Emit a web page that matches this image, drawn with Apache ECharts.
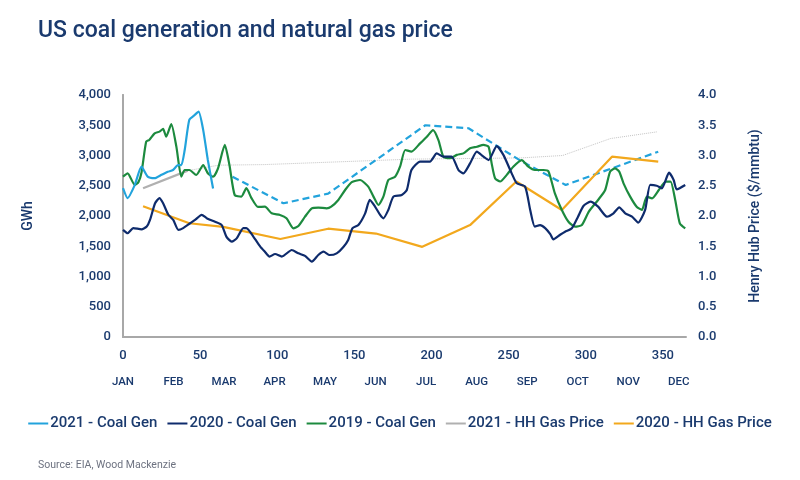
<!DOCTYPE html>
<html>
<head>
<meta charset="utf-8">
<script src="https://cdn.jsdelivr.net/npm/echarts@6/dist/echarts.min.js"></script>
<style>
  html, body { margin: 0; padding: 0; background: #fff; }
  #main { width: 800px; height: 480px; }
</style>
</head>
<body>
<div id="main"></div>
<script>
// [day of year, value]
const coal2021 = [[0,2460],[3,2295],[7.6,2510],[12,2815],[16,2650],[20.5,2625],[25,2680],[29,2730],[32.4,2760],[35.7,2840],[37.8,2840],[40,3090],[43,3590],[46.5,3670],[49,3725],[52,3420],[55,2925],[58.4,2455]]
const coal2021Outlook = [[71,2650],[104,2210],[133,2370],[196,3500],[224,3450],[258,2910],[287,2513],[347,3063]]
const coal2020 = [[0,1770],[3,1715],[6.7,1800],[12,1780],[15.4,1825],[17.5,1935],[20.8,2210],[23.6,2295],[26,2210],[29.4,2020],[32.6,1935],[35.9,1770],[39,1800],[43.5,1880],[46.7,1935],[51,2020],[54.5,1960],[59.7,1905],[64,1850],[67,1660],[70.5,1575],[73.7,1630],[78,1800],[80,1800],[84.5,1660],[89,1495],[92,1410],[95,1330],[98.6,1372],[103,1330],[109.4,1438],[113.7,1383],[118,1340],[122.4,1245],[126.6,1355],[130,1410],[134,1355],[138.5,1383],[143,1493],[146,1603],[148.7,1797],[152.6,1851],[157,2044],[160,2265],[163.4,2155],[166.7,2017],[168.8,1962],[172,2100],[175.3,2320],[180.7,2347],[184,2430],[187,2760],[192.6,2900],[199,2900],[203.4,3035],[207.7,2980],[213,2980],[217.5,2760],[220.7,2705],[225,2870],[229.4,3065],[233.7,2980],[237,2925],[242.3,3155],[246.6,3010],[252,2705],[255.3,2540],[260.7,2485],[264,2100],[267,1825],[270.4,1850],[273.7,1800],[277,1700],[279,1615],[283.4,1690],[286.6,1741],[291,1797],[295,1989],[298.5,2165],[303,2237],[308,2154],[313.7,1989],[318,2044],[321.7,2143],[325.6,2044],[330,1989],[334,1890],[338.5,2100],[341.8,2513],[346,2500],[349.3,2458],[354,2716],[357,2595],[359,2441],[364.5,2513]]
const coal2019 = [[0,2650],[3,2705],[7.6,2515],[10,2560],[12,2720],[15,3228],[17,3257],[20.5,3367],[23.7,3395],[26,3440],[28,3311],[31.3,3520],[34.6,3146],[37.8,2650],[40,2760],[43,2760],[47.5,2678],[52,2843],[55,2706],[58.4,2650],[61.6,2788],[66,3174],[69,2843],[72.4,2347],[76.7,2320],[80,2460],[83.2,2300],[87.5,2150],[92,2154],[96.4,2044],[101.8,2017],[106,1962],[110.4,1797],[113.7,1836],[118,1989],[122.4,2127],[126.6,2140],[132,2127],[135,2154],[139.6,2265],[144,2430],[148.3,2560],[153.7,2595],[159,2485],[162.4,2320],[165.6,2182],[168.8,2320],[172,2595],[176.4,2650],[179.6,2815],[183,3091],[187,3064],[192.6,3200],[197,3310],[201,3420],[204.5,3255],[207.7,2980],[212,2955],[216.4,3010],[220.7,3035],[225,3120],[229.4,3145],[233.7,3175],[237,3145],[239,2870],[241.2,2625],[244.5,2570],[248.8,2680],[253,2815],[258.5,2925],[262.8,2815],[267,2760],[272.6,2760],[275.8,2740],[280,2375],[284.5,2100],[288.8,1905],[293,1823],[297.5,1851],[302,2072],[308,2265],[312.6,2430],[315.8,2733],[319,2788],[321.7,2733],[324.5,2540],[328.8,2320],[333,2154],[336.4,2100],[339.6,2320],[343,2292],[347.4,2430],[351.8,2568],[355,2568],[358,2265],[361,1879],[364.5,1797]]
const gas2021 = [[13,2.46],[42,2.75]]
const gas2021Futures = [[42,2.75],[62,2.84],[92,2.85],[187,2.94],[258,2.96],[285,3.0],[316,3.28],[346,3.39]]
const gas2020 = [[13,2.16],[43,1.88],[65,1.82],[102,1.62],[133,1.79],[164,1.71],[194,1.49],[225,1.85],[255,2.57],[284.5,2.10],[317,2.98],[347,2.90]]

const months = ['JAN', 'FEB', 'MAR', 'APR', 'MAY', 'JUN', 'JUL', 'AUG', 'SEP', 'OCT', 'NOV', 'DEC']
const monthStep = 32.75

const navy = '#1a3a6e'
const font = 'Roboto, "Noto Sans", sans-serif'

function line(name, data, color, extra) {
    return Object.assign({
        name: name,
        type: 'line',
        data: data,
        showSymbol: false,
        symbol: 'none',
        lineStyle: { color: color, width: 2.2 },
        itemStyle: { color: color }
    }, extra || {})
}

let myChart = echarts.init(document.getElementById('main'))

let option = {
    backgroundColor: '#fff',
    animation: false,
    textStyle: { fontFamily: font },
    title: [{
        text: 'US coal generation and natural gas price',
        left: 33,
        top: 15,
        textStyle: { color: navy, fontSize: 23, fontWeight: 500, fontFamily: font }
    }, {
        text: 'Source: EIA, Wood Mackenzie',
        left: 33,
        top: 455,
        textStyle: { color: '#6d7280', fontSize: 10.5, fontWeight: 'normal', fontFamily: font }
    }],
    legend: {
        data: ['2021 - Coal Gen', '2020 - Coal Gen', '2019 - Coal Gen', '2021 - HH Gas Price', '2020 - HH Gas Price'],
        left: 'center',
        top: 411,
        icon: 'rect',
        itemWidth: 20,
        itemHeight: 2,
        itemGap: 10,
        textStyle: { color: navy, fontSize: 15, fontWeight: 500, padding: [0, 0, 0, -3] }
    },
    grid: { left: 123, right: 114, top: 95, bottom: 143 },
    xAxis: [{
        type: 'value',
        min: 0,
        max: 365,
        interval: 50,
        axisLine: { lineStyle: { color: '#a8a8a8', width: 2 } },
        axisTick: { show: false },
        splitLine: { show: false },
        axisLabel: {
            color: navy, fontSize: 13, fontWeight: 500, margin: 12,
            formatter: function (v) { return v > 355 ? '' : String(v) }
        }
    }, {
        type: 'value',
        min: 0,
        max: 365,
        interval: monthStep,
        position: 'bottom',
        offset: 27,
        axisLine: { show: false },
        axisTick: { show: false },
        splitLine: { show: false },
        axisLabel: {
            color: navy, fontSize: 11.5, fontWeight: 500, margin: 12,
            formatter: function (v) {
                let i = Math.round(v / monthStep)
                return (v > 362 || i > 11) ? '' : months[i]
            }
        }
    }],
    yAxis: [{
        type: 'value',
        min: 0,
        max: 4000,
        interval: 500,
        name: 'GWh',
        nameLocation: 'middle',
        nameRotate: 90,
        nameGap: 88,
        nameTextStyle: { color: navy, fontSize: 14, fontWeight: 500 },
        axisLine: { show: true, lineStyle: { color: '#a8a8a8', width: 2 } },
        axisTick: { show: false },
        splitLine: { show: false },
        axisLabel: {
            color: navy, fontSize: 13, fontWeight: 500, margin: 12,
            formatter: function (v) { return v.toLocaleString('en-US') }
        }
    }, {
        type: 'value',
        min: 0,
        max: 4,
        interval: 0.5,
        position: 'right',
        name: 'Henry Hub Price ($/mmbtu)',
        nameLocation: 'middle',
        nameRotate: 90,
        nameGap: 62,
        nameTextStyle: { color: navy, fontSize: 14, fontWeight: 500 },
        axisLine: { show: true, lineStyle: { color: '#a8a8a8', width: 2 } },
        axisTick: { show: false },
        splitLine: { show: false },
        axisLabel: {
            color: navy, fontSize: 13, fontWeight: 500, margin: 12,
            formatter: function (v) { return v.toFixed(1) }
        }
    }],
    series: [
        line('2021 - HH Gas Price (futures)', gas2021Futures, '#c4c4c4', { yAxisIndex: 1, lineStyle: { color: '#c4c4c4', width: 1, type: 'dotted' } }),
        line('2021 - Coal Gen (outlook)', coal2021Outlook, '#22a3dc', { lineStyle: { color: '#22a3dc', width: 2.2, type: [7, 4] } }),
        line('2020 - HH Gas Price', gas2020, '#f2a81d', { yAxisIndex: 1 }),
        line('2021 - HH Gas Price', gas2021, '#b0b0b0', { yAxisIndex: 1 }),
        line('2019 - Coal Gen', coal2019, '#1c8a3e', { smooth: 0.2 }),
        line('2020 - Coal Gen', coal2020, '#0e2b6c', { smooth: 0.2 }),
        line('2021 - Coal Gen', coal2021, '#22a3dc', { smooth: 0.2 })
    ]
}

myChart.setOption(option)
</script>
</body>
</html>
